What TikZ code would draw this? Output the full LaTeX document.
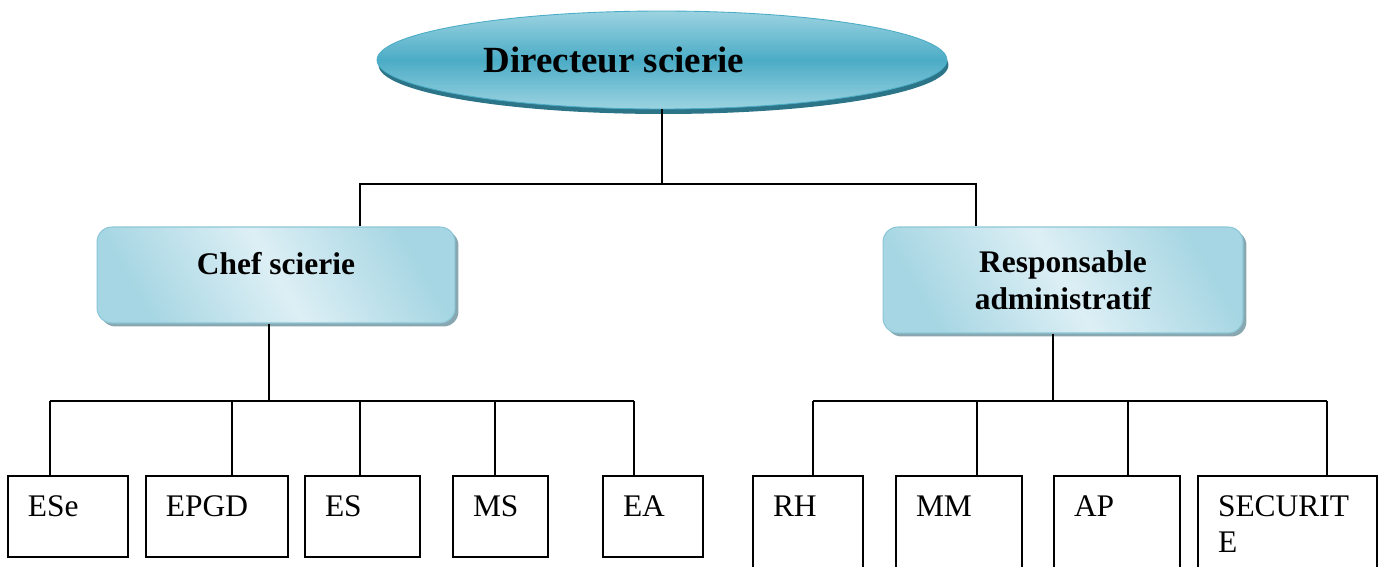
\documentclass[tikz,border=0pt]{standalone}
\usepackage{fontspec}
\setmainfont{Liberation Serif}
\usetikzlibrary{shapes.geometric}
\usetikzlibrary{shadows}
\usetikzlibrary{fit}

\definecolor{ovaldark}{HTML}{4BACC6}
\definecolor{ovallight}{HTML}{9CD3E1}
\definecolor{ovalshade}{HTML}{2C7487}
\definecolor{boxdark}{HTML}{A6D6E3}
\definecolor{boxlight}{HTML}{DDEFF5}
\definecolor{boxedge}{HTML}{8CC7D7}
\definecolor{boxshade}{HTML}{88A7B0}

\begin{document}
\begin{tikzpicture}[x=0.02cm, y=-0.02cm, line width=0.8pt,
    oval/.style={ellipse, draw=ovaldark, line width=0.5pt, minimum width=11.4cm, minimum height=1.96cm, top color=ovallight, bottom color=ovallight, middle color=ovaldark, drop shadow={shadow xshift=0.03cm, shadow yshift=-0.1cm, fill=ovalshade, opacity=1}},
    chefbox/.style={rectangle, rounded corners=0.3cm, draw=boxedge, line width=0.6pt, top color=boxdark, bottom color=boxdark, middle color=boxlight, shading angle=-60, drop shadow={shadow xshift=0.07cm, shadow yshift=-0.07cm, fill=boxshade, opacity=1}, font=\bfseries\fontsize{17.9}{21}\selectfont},
    unit/.style={rectangle, draw, inner sep=0pt},
    unitlabel/.style={anchor=north west, inner sep=0pt, align=left, font=\fontsize{17.9}{20.5}\selectfont}]
    \useasboundingbox (0,0) rectangle (1385,567);
    \clip (0,0) rectangle (1385,567);
    %% Direction
    \node[oval] (dir) at (662,60) {};
    \node[font=\bfseries\fontsize{21}{25}\selectfont] (dirtext) at ([xshift=-0.96cm]dir.center) {Directeur scierie};
    \node[chefbox, minimum width=7.16cm, minimum height=1.92cm, text depth=0.47cm] (chef) at (276,275) {Chef scierie};
    \node[chefbox, minimum width=7.2cm, minimum height=2.12cm, align=center] (resp) at (1063,280) {Responsable\\administratif};
    \coordinate (topbar) at (662,184);
    \coordinate (chefdrop) at (360,184);
    \coordinate (respdrop) at (976,184);
    \draw (dir.south) -- (topbar);
    \draw (chef.north -| chefdrop) -- (chefdrop) -- (respdrop) -- (resp.north -| respdrop);
    %% Chef scierie
    \coordinate (chefout) at (269,401);
    \draw (chef.south -| chefout) -- (chefout);
    \foreach \n/\xl/\xr/\xd/\lab in {ese/8/128/50/ESe, epgd/146/288/232/EPGD, es/305/420/360/ES, ms/453/548/495/MS, ea/603/703/634/EA} {
        \node[unit, fit={(\xl,476) (\xr,557)}] (\n) {};
        \node[unitlabel] (\n-text) at ([xshift=0.4cm, yshift=-0.4cm]\n.north west) {\lab};
        \coordinate (\n-drop) at (\xd,401);
        \draw (\n.north -| \n-drop) -- (\n-drop);
    }
    \draw (ese-drop) -- (ea-drop);
    %% Responsable administratif
    \coordinate (respout) at (1053,401);
    \draw (resp.south -| respout) -- (respout);
    \foreach \n/\xl/\xr/\xd/\lab in {rh/753/863/813/RH, mm/896/1022/977/MM, ap/1054/1180/1128/AP, sec/1198/1377/1327/{SECURIT\\E}} {
        \node[unit, fit={(\xl,476) (\xr,590)}] (\n) {};
        \node[unitlabel] (\n-text) at ([xshift=0.4cm, yshift=-0.4cm]\n.north west) {\lab};
        \coordinate (\n-drop) at (\xd,401);
        \draw (\n.north -| \n-drop) -- (\n-drop);
    }
    \draw (rh-drop) -- (sec-drop);
\end{tikzpicture}
\end{document}
